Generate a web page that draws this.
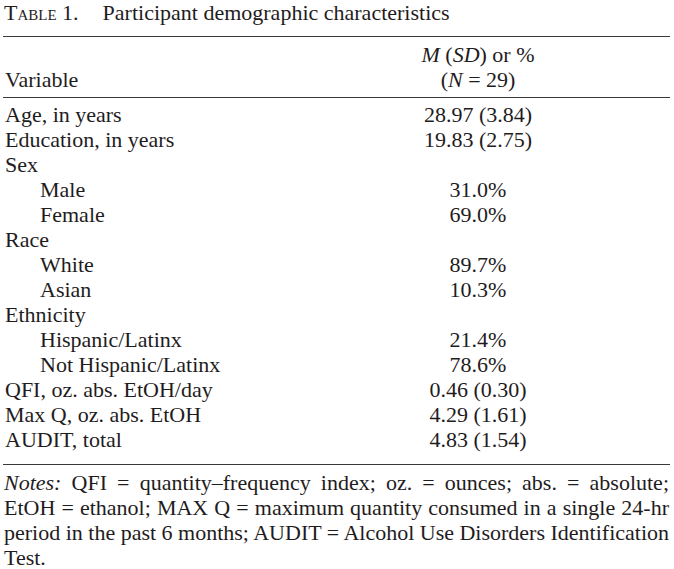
<!DOCTYPE html>
<html>
<head>
<meta charset="utf-8">
<script src="https://cdn.jsdelivr.net/npm/chart.js@4"></script>
<style>
  html, body {
    margin: 0;
    padding: 0;
    background: #fff;
  }
  body {
    width: 674px;
    height: 569px;
    position: relative;
    overflow: hidden;
    font-family: "Liberation Serif", "Times New Roman", serif;
    font-size: 22px;
    line-height: 25px;
    color: #1f1c1d;
  }
  .abs { position: absolute; white-space: nowrap; }
  .rule {
    position: absolute;
    left: 3px;
    width: 667px;
    height: 0;
    border-top: 1.7px solid #3a3a3a;
  }
  .sc { font-variant: small-caps; }
  .gap { display: inline-block; width: 24px; }
  .val {
    position: absolute;
    left: 378px;
    width: 200px;
    text-align: center;
    white-space: nowrap;
  }
  .note {
    position: absolute;
    left: 4px;
    width: 665px;
    white-space: nowrap;
    text-align: justify;
    text-align-last: justify;
    word-spacing: -0.6px;
  }
  .note.last { text-align-last: left; }
</style>
</head>
<body>
<div id="table"></div>
<script>
// table content
const titleLabel = 'Table';
const titleNumber = '1.';
const titleText = 'Participant demographic characteristics';
const headerLabel = 'Variable';
const headerStat = '<i>M</i> (<i>SD</i>) or %';
const headerN = '(<i>N</i> = 29)';

const rowLabels = [
  'Age, in years', 'Education, in years', 'Sex', 'Male', 'Female',
  'Race', 'White', 'Asian', 'Ethnicity', 'Hispanic/Latinx',
  'Not Hispanic/Latinx', 'QFI, oz. abs. EtOH/day', 'Max Q, oz. abs. EtOH', 'AUDIT, total'
];
const rowValues = [
  '28.97 (3.84)', '19.83 (2.75)', '', '31.0%', '69.0%',
  '', '89.7%', '10.3%', '', '21.4%',
  '78.6%', '0.46 (0.30)', '4.29 (1.61)', '4.83 (1.54)'
];
// 1 = sub-category row (indented)
const rowLevels = [0, 0, 0, 1, 1, 0, 1, 1, 0, 1, 1, 0, 0, 0];

const notesLines = [
  '<i>Notes:</i> QFI = quantity\u2013frequency index; oz. = ounces; abs. = absolute;',
  'EtOH = ethanol; MAX Q = maximum quantity consumed in a single 24-hr',
  'period in the past 6 months; AUDIT = Alcohol Use Disorders Identification',
  'Test.'
];

// layout
const topRule = 36;
const statTop = 42;
const headTop = 67;
const headRule = 97;
const rowTop = 102;
const rowStep = 25;

function el(cls, top, html, left) {
  const d = document.createElement('div');
  d.className = cls;
  d.style.top = top + 'px';
  if (left !== undefined) d.style.left = left + 'px';
  d.innerHTML = html;
  return d;
}

function buildTable() {
  const root = document.getElementById('table');
  root.appendChild(el('abs', 0,
    `<span class="sc">${titleLabel}</span> ${titleNumber}<span class="gap"></span>${titleText}`, 4));
  root.appendChild(el('rule', topRule, ''));
  root.appendChild(el('val', statTop, headerStat));
  root.appendChild(el('abs', headTop, headerLabel, 5));
  root.appendChild(el('val', headTop, headerN));
  root.appendChild(el('rule', headRule, ''));

  rowLabels.forEach((label, i) => {
    const top = rowTop + i * rowStep;
    root.appendChild(el('abs', top, label, rowLevels[i] ? 40 : 5));
    if (rowValues[i]) root.appendChild(el('val', top, rowValues[i]));
  });

  const bottom = rowTop + rowLabels.length * rowStep + 12;
  root.appendChild(el('rule', bottom, ''));
  notesLines.forEach((line, i) => {
    const cls = i === notesLines.length - 1 ? 'note last' : 'note';
    root.appendChild(el(cls, bottom + 6 + i * rowStep, line));
  });
}

document.addEventListener('DOMContentLoaded', buildTable);
</script>
</body>
</html>
